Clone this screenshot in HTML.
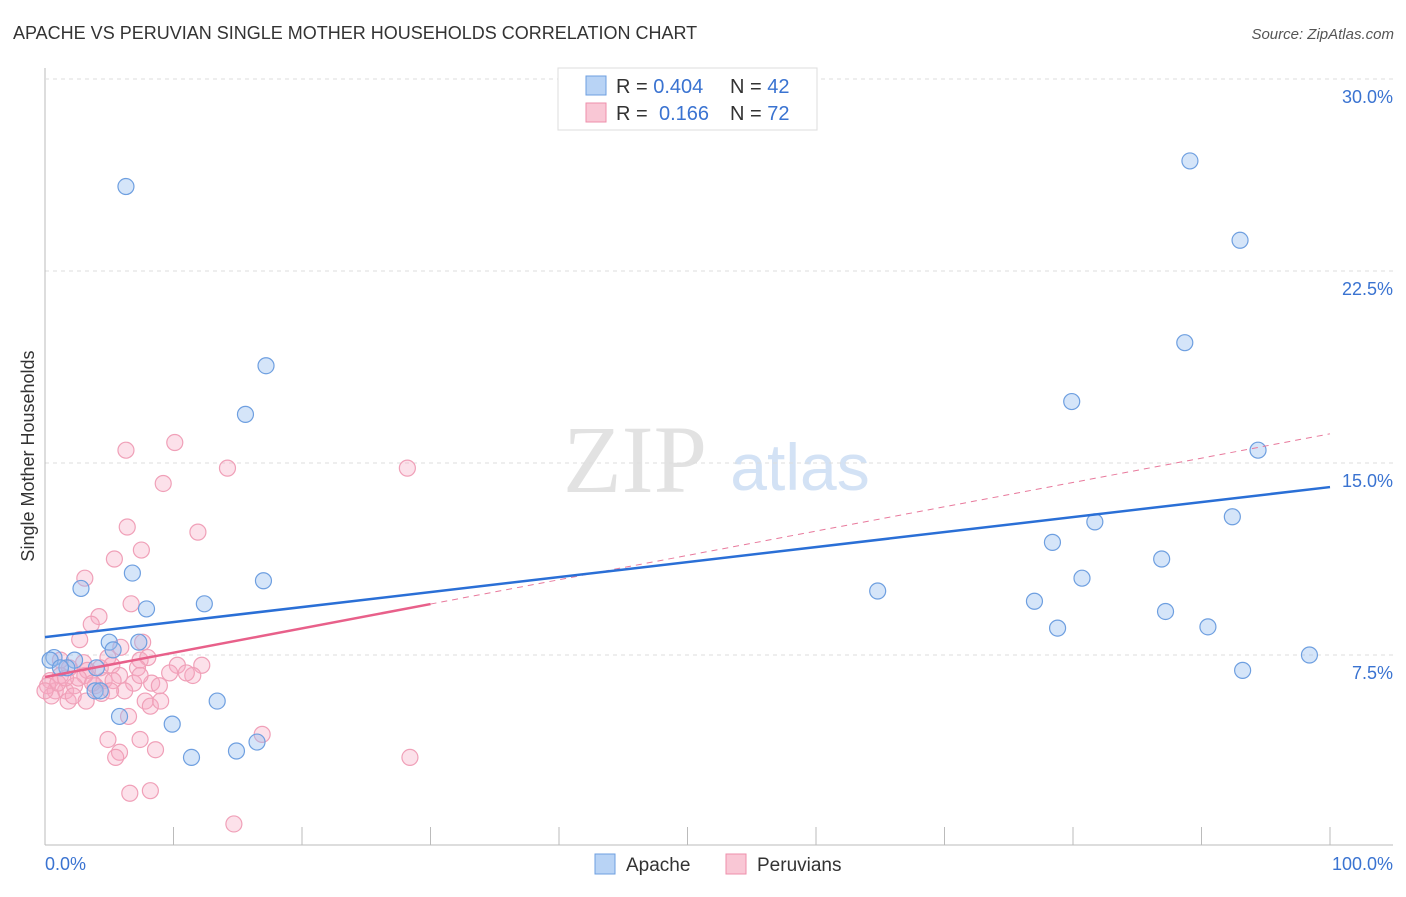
<!DOCTYPE html>
<html><head><meta charset="utf-8"><style>
body{margin:0;background:#fff;font-family:"Liberation Sans",sans-serif}
</style></head><body>
<svg id="c" width="1406" height="892" xmlns="http://www.w3.org/2000/svg" font-family="Liberation Sans, sans-serif">
<text x="13" y="39" font-size="18" fill="#333">APACHE VS PERUVIAN SINGLE MOTHER HOUSEHOLDS CORRELATION CHART</text>
<text x="1394" y="39" font-size="15" fill="#555" font-style="italic" text-anchor="end">Source: ZipAtlas.com</text>
<text x="635" y="492" font-size="96" fill="#e2e2e2" font-family="Liberation Serif, serif" text-anchor="middle">ZIP</text>
<text x="800" y="490" font-size="66" fill="#d3e2f5" text-anchor="middle">atlas</text>
<g id="grid"></g><g id="pts"></g><g id="lines"></g>
<text transform="translate(34,456) rotate(-90)" font-size="18" fill="#333" text-anchor="middle">Single Mother Households</text>
<g>
<rect x="558" y="68" width="259" height="62" fill="#fff" stroke="#ddd"/>
<rect x="586" y="76" width="20" height="19" fill="#b8d3f5" stroke="#6e9fe0"/>
<rect x="586" y="103" width="20" height="19" fill="#f9c7d5" stroke="#ee8fab"/>
<text x="616" y="93" font-size="20" fill="#333">R = <tspan fill="#3a73d1">0.404</tspan><tspan x="730">N = </tspan><tspan fill="#3a73d1">42</tspan></text>
<text x="616" y="120" font-size="20" fill="#333">R = <tspan x="659" fill="#3a73d1">0.166</tspan><tspan x="730">N = </tspan><tspan fill="#3a73d1">72</tspan></text>
</g>
<g>
<rect x="595" y="854" width="20" height="20" fill="#b8d3f5" stroke="#6e9fe0"/>
<text x="626" y="871" font-size="19" fill="#333">Apache</text>
<rect x="726" y="854" width="20" height="20" fill="#f9c7d5" stroke="#ee8fab"/>
<text x="757" y="871" font-size="19" fill="#333">Peruvians</text>
</g>
</svg>
<script>
const yTicks=[7.5,15,22.5,30];
const yTickLabels=["7.5%","15.0%","22.5%","30.0%"];
const xTicks=[0,10,20,30,40,50,60,70,80,90,100];
const apacheX=[6.3,17.2,15.6,6.8,2.8,7.9,12.4,17.0,7.3,5.0,5.3,0.7,2.3,4.0,1.7,3.9,5.8,9.9,13.4,11.4,14.9,16.5,89.1,93.0,88.7,79.9,94.4,81.7,92.4,78.4,86.9,80.7,64.8,77.0,78.8,87.2,90.5,93.2,98.4,0.4,1.2,4.3];
const apacheY=[25.8,18.8,16.9,10.7,10.1,9.3,9.5,10.4,8.0,8.0,7.7,7.4,7.3,7.0,7.0,6.1,5.1,4.8,5.7,3.5,3.75,4.1,26.8,23.7,19.7,17.4,15.5,12.7,12.9,11.9,11.25,10.5,10.0,9.6,8.55,9.2,8.6,6.9,7.5,7.3,7.0,6.1];
const peruX=[6.3,10.1,9.2,14.2,28.2,11.9,6.4,7.5,5.4,3.1,6.7,4.2,3.6,2.7,7.6,7.4,8.0,10.3,12.2,11.5,9.7,4.9,5.2,7.2,4.3,3.0,5.8,4.6,3.9,3.1,1.9,1.2,0.4,0.8,1.6,2.3,0.2,0.5,1.8,4.4,6.9,8.3,8.9,7.8,8.2,6.5,4.9,5.8,5.5,7.4,8.6,6.6,8.2,14.7,28.4,16.9,5.9,1.2,3.3,7.4,2.6,1.0,3.7,0.0,1.6,2.2,5.3,6.2,3.2,9.0,11.0,5.1];
const peruY=[15.5,15.8,14.2,14.8,14.8,12.3,12.5,11.6,11.25,10.5,9.5,9.0,8.7,8.1,8.0,7.3,7.4,7.1,7.1,6.7,6.8,7.4,7.1,7.0,7.0,7.2,6.7,6.5,6.3,6.7,7.0,6.7,6.5,6.1,6.1,6.3,6.3,5.9,5.7,6.0,6.4,6.4,6.3,5.7,5.5,5.1,4.2,3.7,3.5,4.2,3.8,2.1,2.2,0.9,3.5,4.4,7.8,7.3,6.9,6.7,6.6,6.4,6.4,6.1,6.6,5.9,6.5,6.1,5.7,5.7,6.8,6.1];
const apacheLine=[8.2,14.06];
const peruLine=[6.64,16.14];
const peruSolidEnd=30;
const NS="http://www.w3.org/2000/svg";
const X=v=>45+v*12.85, Y=v=>847-v*25.6;
function mk(t,a,p){const e=document.createElementNS(NS,t);for(const k in a)e.setAttribute(k,a[k]);p.appendChild(e);return e;}
const g=document.getElementById('grid');
yTicks.forEach((t,i)=>{
 const l=mk('line',{x1:45,x2:1393,y1:Y(t),y2:Y(t),stroke:'#ddd','stroke-dasharray':'4,4'},g);
 
 
 const tx=mk('text',{x:1393,y:Y(t)+24,'font-size':18,fill:'#3a73d1','text-anchor':'end'},g);
 tx.textContent=yTickLabels[i];
 
 
});
const ax=mk('line',{x1:45,x2:45,y1:68,y2:845,stroke:'#bbb'},g);


const bx=mk('line',{x1:45,x2:1393,y1:845,y2:845,stroke:'#bbb'},g);


xTicks.forEach(t=>{const l=mk('line',{x1:X(t),x2:X(t),y1:827,y2:845,stroke:'#bbb'},g);
 
 });
const x0=mk('text',{x:45,y:870,'font-size':18,fill:'#3a73d1'},g);x0.textContent='0.0%';


const x1=mk('text',{x:1393,y:870,'font-size':18,fill:'#3a73d1','text-anchor':'end'},g);x1.textContent='100.0%';


const p=document.getElementById('pts');
peruX.forEach((v,i)=>{const c=mk('circle',{cx:X(v),cy:Y(peruY[i]),r:8,fill:'rgba(246,170,195,0.35)',stroke:'#f0a0b8','stroke-width':1.2},p);
 
 });
apacheX.forEach((v,i)=>{const c=mk('circle',{cx:X(v),cy:Y(apacheY[i]),r:8,fill:'rgba(150,190,240,0.4)',stroke:'#6e9fe0','stroke-width':1.2},p);
 
 });
const L=document.getElementById('lines');
const pl=v=>peruLine[0]+(peruLine[1]-peruLine[0])*v/100;
const d=mk('line',{x1:X(peruSolidEnd),y1:Y(pl(peruSolidEnd)),x2:X(100),y2:Y(pl(100)),stroke:'#e8799c','stroke-width':1,'stroke-dasharray':'6,5'},L);


const s=mk('line',{x1:X(0),y1:Y(pl(0)),x2:X(peruSolidEnd),y2:Y(pl(peruSolidEnd)),stroke:'#e8608a','stroke-width':2.5},L);


const b=mk('line',{x1:X(0),y1:Y(apacheLine[0]),x2:X(100),y2:Y(apacheLine[1]),stroke:'#2a6fd6','stroke-width':2.5},L);


const topGrid=mk('line',{x1:45,x2:1393,y1:Y(30),y2:Y(30),stroke:'#ddd','stroke-dasharray':'4,4'},g);


</script>
</body></html>
